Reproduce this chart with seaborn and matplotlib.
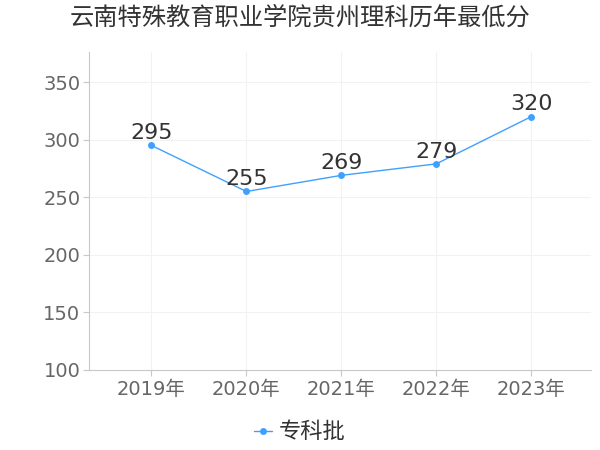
import matplotlib
matplotlib.use("Agg")
import matplotlib.pyplot as plt
import pandas as pd
import seaborn as sns

years = ["2019年", "2020年", "2021年", "2022年", "2023年"]
scores = [295, 255, 269, 279, 320]
series_name = "专科批"
title = "云南特殊教育职业学院贵州理科历年最低分"

sns.set_style("white")
plt.rcParams['font.family'] = ['DejaVu Sans', 'Noto Sans CJK SC']

df = pd.DataFrame({"year": years, "score": scores, "batch": series_name})
df["x"] = range(len(years))

fig = plt.figure(figsize=(6, 4.5), dpi=100)
ax = fig.add_axes([0.148, 0.178, 0.837, 0.706])

line_color = "#3fa0ff"
sns.lineplot(data=df, x="x", y="score", hue="batch", palette=[line_color],
             marker="o", markersize=5, markeredgewidth=0, linewidth=1, ax=ax)

# value labels over points
for xi, v in zip(df["x"], df["score"]):
    ax.text(xi, v + 2, str(v), ha="center", va="bottom", fontsize=16, color="#333333")

ax.set_xlim(-0.66, 4.63)
ax.set_ylim(100, 376)
ax.set_yticks([100, 150, 200, 250, 300, 350])
ax.set_xticks(df["x"])
ax.set_xticklabels(years)
ax.set_xlabel("")
ax.set_ylabel("")

ax.grid(True, color="#f2f2f2", linewidth=0.8)
for side in ["top", "right"]:
    ax.spines[side].set_visible(False)
for side in ["left", "bottom"]:
    ax.spines[side].set_color("#c8c8c8")
ax.tick_params(axis="both", colors="#c8c8c8", length=4, width=0.8,
               labelcolor="#666666", labelsize=14, left=True, bottom=True)
ax.tick_params(axis="y", pad=2)

fig.suptitle(title, x=0.5, y=0.99, fontsize=17.5, color="#333333",
             fontfamily=['Noto Sans CJK SC', 'DejaVu Sans'])

handles, labels = ax.get_legend_handles_labels()
fig.legend(handles, labels, loc="center", bbox_to_anchor=(0.5, 0.04),
           frameon=False, handlelength=0.8, handletextpad=0.3,
           labelcolor="#333333", prop={'family': ['Noto Sans CJK SC'], 'size': 16})
ax.get_legend().remove()

fig.savefig("out.png", dpi=100)
